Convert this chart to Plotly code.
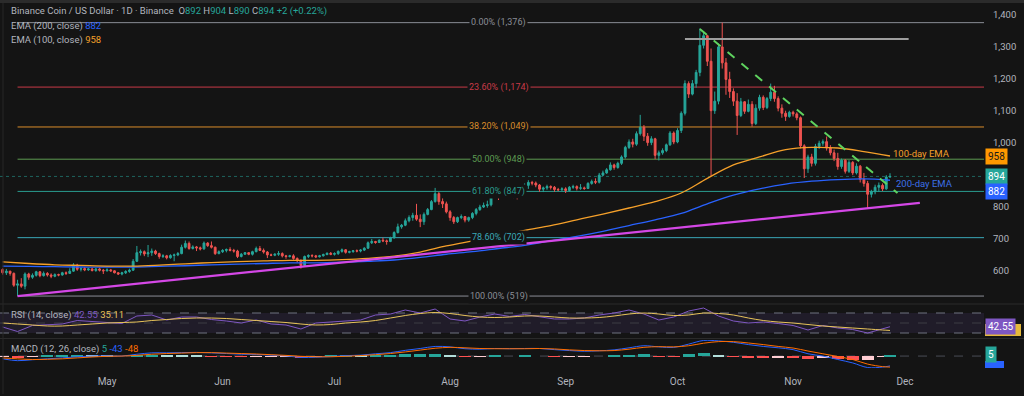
import pandas as pd
import plotly.graph_objects as go
from plotly.subplots import make_subplots

# ---------------- DATA ----------------
first_open = 602
apr_close = [592,597,590,553,557,550,588,578,584,595,583,590,585,581,586,585,592,590,597,616,603,605,601,604,599,604,600,598]
apr_high  = [606,604,598,593,570,575,593,592,590,598,597,596,594,590,590,589,595,596,606,622,620,609,610,607,608,607,608,604]
apr_low   = [586,585,583,548,519,545,540,570,573,580,578,580,580,575,578,581,583,585,588,595,598,596,597,598,596,595,596,588]

may_close = [601,598,592,588,592,596,600,628,655,658,651,655,660,652,643,645,639,646,648,652,672,684,668,673,670,667,685,677,672,652,658]
may_high  = [606,604,600,594,595,600,605,635,676,665,662,679,668,664,655,650,648,650,652,657,680,693,690,678,676,674,690,688,690,674,662]
may_low   = [596,595,590,585,584,588,592,598,626,646,644,641,645,648,636,638,634,636,628,644,650,668,664,665,660,662,664,673,668,648,650]

jun_close = [662,665,662,660,643,650,655,650,658,668,662,657,648,647,650,652,645,643,645,637,630,615,643,646,645,642,645,649,653,650]
jun_high  = [666,668,672,667,664,654,657,656,661,674,676,668,660,652,653,660,656,648,648,650,640,634,646,650,650,648,648,652,656,657]
jun_low   = [654,656,659,655,638,640,648,647,646,656,660,652,638,644,644,645,640,636,640,633,624,605,612,638,640,638,640,643,647,647]

jul_close = [652,659,664,656,658,661,660,663,669,686,690,687,694,692,690,701,718,736,741,755,765,772,760,752,775,790,815,840,815,808,783]
jul_high  = [656,662,668,666,661,663,665,666,672,690,698,692,697,702,696,705,722,746,745,762,772,780,808,775,781,795,820,858,845,825,815]
jul_low   = [646,648,655,652,653,655,656,656,660,667,682,683,685,688,680,688,700,715,730,738,750,755,755,735,742,772,788,812,805,795,778]

aug_close = [765,752,765,768,757,765,778,790,798,803,805,838,850,836,846,838,843,838,832,848,866,875,873,867,854,858,862,860,853,852,855]
aug_high  = [788,770,768,775,770,768,782,795,805,812,818,845,860,855,852,848,848,848,842,852,872,882,880,878,870,862,868,866,864,858,860]
aug_low   = [755,745,748,760,750,752,760,772,786,795,796,800,832,820,830,834,835,826,822,828,845,855,866,860,846,845,852,853,846,848,849]

sep_close = [850,860,862,857,858,856,872,878,876,898,905,915,930,922,935,955,985,1002,995,1028,1048,1020,1000,1012,960,968,975,993,1030,1002]
sep_high  = [860,864,868,866,870,862,876,884,888,905,912,920,938,934,940,960,990,1010,1012,1035,1087,1055,1030,1020,1015,975,982,997,1036,1035]
sep_low   = [842,846,855,850,852,852,855,868,870,872,895,902,912,915,918,930,950,980,985,990,1022,1005,990,992,948,944,962,970,990,995]

oct_close = [1038,1092,1185,1152,1185,1220,1305,1335,1255,1100,1130,1300,1250,1198,1160,1130,1085,1128,1098,1120,1060,1108,1142,1110,1138,1158,1138,1108,1092,1082,1095]
oct_high  = [1045,1098,1195,1192,1196,1228,1358,1350,1338,1295,1160,1310,1376,1265,1222,1170,1155,1140,1130,1135,1130,1120,1150,1148,1143,1185,1178,1145,1120,1100,1100]
oct_low   = [998,1030,1085,1140,1148,1172,1208,1295,1240,895,1090,1120,1232,1150,1140,1115,1024,1080,1090,1095,1050,1055,1100,1102,1105,1130,1128,1098,1078,1068,1078]

nov_close = [1090,1078,990,918,955,935,988,998,1003,983,968,950,925,945,910,938,905,926,885,872,838,846,860,866,855,892,894]
nov_high  = [1100,1095,1082,995,962,965,996,1006,1010,1019,992,978,968,950,948,945,942,935,930,905,880,852,868,875,872,898,904]
nov_low   = [1082,1070,982,889,905,925,928,980,990,975,960,942,915,918,903,905,898,900,875,862,792,828,838,846,848,852,890]

# weekly EMA readings (Apr 3 ... Nov 27)
ema100 = [626,621,617,615,613,613,616,620,624,627,629,631,631,633,637,644,657,676,692,708,725,740,758,776,795,815,842,888,930,955,978,985,983,972,958]
ema200 = [613,612,611,610,610,610,612,614,617,619,621,623,623,625,628,632,640,650,658,668,678,692,706,722,740,758,778,808,835,855,870,879,884,886,882]

# indicator readings every 4 days (Apr 3 ... Nov 25) + last bar (Nov 27)
rsi = [42,33,45,46,48,55,53, 51,49,64,66,56,62,62,57, 54,50,56,48,46,38,50,52, 55,56,66,68,76,70,78,
       58,54,62,68,63,67,62,58, 58,60,66,70,76,68,56,62, 74,80,64,54,50,52,49, 45,36,45,40,37,30,38, 42.55]
rsi_ma = [50,48,46,44,44,46,48, 50,51,52,55,57,59,60,60, 59,57,55,53,51,48,46,47, 50,52,55,60,65,69,71,
          69,65,62,61,62,64,64,62, 60,60,61,64,68,70,68,65, 66,70,69,66,60,55,52, 50,47,44,42,40,38,36, 35.11]
macd = [-12,-20,-16,-12,-8,-3,0, 1,0,8,14,14,15,16,14, 11,8,7,4,1,-6,-5,-2, 2,4,10,15,25,33,42,
        40,32,30,33,32,33,33,28, 24,21,23,27,36,45,40,38, 52,68,66,60,50,42,36, 28,10,0,-15,-30,-50,-48, -43]
signal = [-8,-12,-15,-14,-12,-8,-4, -1,0,3,8,11,13,15,15, 13,11,9,6,3,-1,-3,-3, -1,2,6,11,18,26,34,
          38,36,33,32,32,32,33,31, 27,24,23,24,30,38,41,40, 45,56,63,63,57,50,42, 35,22,10,-2,-15,-35,-46, -48]
hist = [-4,-8,-1,2,4,5,4, 2,0,5,6,3,2,1,-1, -2,-3,-2,-2,-2,-5,-2,1, 3,2,4,4,7,7,8,
        2,-4,-3,1,0,1,0,-3, -3,-3,0,3,6,7,-1,-2, 7,12,3,-3,-7,-8,-6, -7,-12,-10,-13,-15,-15,-2, 5]

fib_levels = [1376, 1174, 1049, 948, 847, 702, 519]
fib_pcts = ["0.00%", "23.60%", "38.20%", "50.00%", "61.80%", "78.60%", "100.00%"]
fib_start = "2025-04-07"

trend_up_dates, trend_up_prices = ["2025-04-07", "2025-12-05"], [519, 811]
trend_down_dates, trend_down_prices = ["2025-10-07", "2025-11-29"], [1356, 842]
resist_dates, resist_price = ["2025-10-03", "2025-12-02"], 1325

month_ticks = ["2025-05-01", "2025-06-01", "2025-07-01", "2025-08-01",
               "2025-09-01", "2025-10-01", "2025-11-01", "2025-12-01"]
month_labels = ["May", "Jun", "Jul", "Aug", "Sep", "Oct", "Nov", "Dec"]
# 900 is hidden behind the price tags in the reference
price_ticks = [600, 700, 800, 1000, 1100, 1200, 1300, 1400]

# ---------------- assemble ----------------
close = apr_close + may_close + jun_close + jul_close + aug_close + sep_close + oct_close + nov_close
high = apr_high + may_high + jun_high + jul_high + aug_high + sep_high + oct_high + nov_high
low = apr_low + may_low + jun_low + jul_low + aug_low + sep_low + oct_low + nov_low
dates = pd.date_range("2025-04-03", "2025-11-27", freq="D")
open_ = [first_open] + close[:-1]

ema_dates = pd.date_range("2025-04-03", periods=len(ema100), freq="7D")
ind_dates = list(pd.date_range("2025-04-03", periods=60, freq="4D")) + [pd.Timestamp("2025-11-27")]

# ---------------- style ----------------
BG = "#141414"
TXT = "#b2b5be"
GREEN = "#26a69a"
RED = "#ef5350"
ORANGE = "#f5a02a"
BLUE = "#2962ff"
PURPLE = "#7e57c2"
YELLOW = "#e8c45a"
FONT = "Roboto, 'Noto Sans', sans-serif"
fib_colors = ["#8a8d96", "#c93a48", "#d98c2b", "#5d9c52", "#2a9d8f", "#3aa8b8", "#8a8d96"]

W_FIG, H_FIG = 1024, 396
L, R, T, B = 0, 40, 3, 28
PW, PH = W_FIG - L - R, H_FIG - T - B


def px(x):
    return (x - L) / PW


def py(y):
    return 1 - (y - T) / PH


X_RANGE = ["2025-04-02 07:00", "2025-12-22 05:00"]

fig = make_subplots(rows=3, cols=1, shared_xaxes=True, vertical_spacing=0.005)

fig.add_trace(go.Candlestick(
    x=dates, open=open_, high=high, low=low, close=close,
    increasing=dict(line=dict(color=GREEN, width=1), fillcolor=GREEN),
    decreasing=dict(line=dict(color=RED, width=1), fillcolor=RED),
    whiskerwidth=0, showlegend=False, hoverinfo="skip"), row=1, col=1)

fig.add_trace(go.Scatter(x=ema_dates, y=ema200, mode="lines", line=dict(color=BLUE, width=1.3, shape="spline"),
                         showlegend=False, hoverinfo="skip"), row=1, col=1)
fig.add_trace(go.Scatter(x=ema_dates, y=ema100, mode="lines", line=dict(color=ORANGE, width=1.3, shape="spline"),
                         showlegend=False, hoverinfo="skip"), row=1, col=1)

# RSI
fig.add_trace(go.Scatter(x=ind_dates, y=rsi, mode="lines", line=dict(color=PURPLE, width=1),
                         showlegend=False, hoverinfo="skip"), row=2, col=1)
fig.add_trace(go.Scatter(x=ind_dates, y=rsi_ma, mode="lines", line=dict(color=YELLOW, width=1, shape="spline"),
                         showlegend=False, hoverinfo="skip"), row=2, col=1)

# MACD
hist_colors = []
for i, v in enumerate(hist):
    prev = hist[i - 1] if i > 0 else v
    if v >= 0:
        hist_colors.append("#26a69a" if v >= prev else "#b2dfdb")
    else:
        hist_colors.append("#ffcdd2" if v >= prev else "#ff5252")
fig.add_trace(go.Bar(x=ind_dates, y=hist, marker=dict(color=hist_colors, line=dict(width=0)),
                     width=3.2 * 86400000, showlegend=False, hoverinfo="skip"), row=3, col=1)
fig.add_trace(go.Scatter(x=ind_dates, y=macd, mode="lines", line=dict(color=BLUE, width=1, shape="spline"),
                         showlegend=False, hoverinfo="skip"), row=3, col=1)
fig.add_trace(go.Scatter(x=ind_dates, y=signal, mode="lines", line=dict(color="#ff6d00", width=1, shape="spline"),
                         showlegend=False, hoverinfo="skip"), row=3, col=1)

shapes = []
annotations = []

# Fibonacci levels
for lvl, pct, col in zip(fib_levels, fib_pcts, fib_colors):
    shapes.append(dict(type="line", xref="x", yref="y", x0=fib_start, x1=X_RANGE[1], y0=lvl, y1=lvl,
                       line=dict(color=col, width=1), layer="below"))
    annotations.append(dict(x="2025-08-14", xref="x", y=lvl, yref="y", text=f"{pct} ({lvl:,})",
                            showarrow=False, font=dict(color=col, size=9, family=FONT),
                            bgcolor=BG, borderpad=1, xanchor="center", yanchor="middle"))

# current price dotted line
shapes.append(dict(type="line", xref="x", yref="y", x0=X_RANGE[0], x1=X_RANGE[1], y0=close[-1], y1=close[-1],
                   line=dict(color="rgba(38,166,154,0.55)", width=1, dash="dot"), layer="below"))

# drawings
shapes.append(dict(type="line", xref="x", yref="y", x0=trend_up_dates[0], x1=trend_up_dates[1],
                   y0=trend_up_prices[0], y1=trend_up_prices[1], line=dict(color="#d447e6", width=2.2)))
shapes.append(dict(type="line", xref="x", yref="y", x0=trend_down_dates[0], x1=trend_down_dates[1],
                   y0=trend_down_prices[0], y1=trend_down_prices[1], line=dict(color="#5fd35f", width=2, dash="dash")))
shapes.append(dict(type="line", xref="x", yref="y", x0=resist_dates[0], x1=resist_dates[1],
                   y0=resist_price, y1=resist_price, line=dict(color="#9e9e9e", width=2)))

# RSI band
shapes.append(dict(type="rect", xref="x2", yref="y2", x0=X_RANGE[0], x1=X_RANGE[1], y0=30, y1=70,
                   fillcolor="rgba(126,87,194,0.12)", line=dict(width=0), layer="below"))
for lv, c in [(70, "#6f7280"), (30, "#6f7280"), (50, "#3c3d45")]:
    shapes.append(dict(type="line", xref="x2", yref="y2", x0=X_RANGE[0], x1=X_RANGE[1], y0=lv, y1=lv,
                       line=dict(color=c, width=1, dash="dash"), layer="below"))
# MACD zero line
shapes.append(dict(type="line", xref="x3", yref="y3", x0=X_RANGE[0], x1=X_RANGE[1], y0=0, y1=0,
                   line=dict(color="#4a4c55", width=1, dash="dash"), layer="below"))

# frame / pane separators
shapes.append(dict(type="rect", xref="paper", yref="paper", x0=px(0), x1=px(1024), y0=py(0), y1=py(3),
                   fillcolor="#2b2b2b", line=dict(width=0)))
for yy in (304, 338.5):
    shapes.append(dict(type="line", xref="paper", yref="paper", x0=px(0), x1=px(1024), y0=py(yy), y1=py(yy),
                       line=dict(color="#2a2a2a", width=1)))
shapes.append(dict(type="line", xref="paper", yref="paper", x0=px(3), x1=px(3), y0=py(3), y1=py(394),
                   line=dict(color="#262626", width=1)))
# RSI-MA tag (mostly hidden behind the RSI tag) and MACD (-43) tag clipped by the pane bottom
shapes.append(dict(type="rect", xref="paper", yref="paper", x0=px(985), x1=px(1021), y0=py(336), y1=py(324),
                   fillcolor="#e5b93c", line=dict(width=0)))
shapes.append(dict(type="rect", xref="paper", yref="paper", x0=px(985), x1=px(1004), y0=py(368), y1=py(361),
                   fillcolor=BLUE, line=dict(width=0)))


def tag(text, y, yref, bg, fg, yshift=0):
    return dict(text=text, x=1, xref="paper", xanchor="left", xshift=1, y=y, yref=yref, yanchor="middle",
                yshift=yshift, showarrow=False, bgcolor=bg, font=dict(color=fg, size=10, family=FONT),
                borderpad=2)


annotations += [
    tag(str(ema100[-1]), ema100[-1], "y", "#ff9800", "#1a1a1a"),
    tag(str(close[-1]), close[-1], "y", GREEN, "#ffffff"),
    tag(str(ema200[-1]), ema200[-1], "y", BLUE, "#ffffff", yshift=-11),
    tag(f"{rsi[-1]:.2f}", rsi[-1], "y2", PURPLE, "#ffffff"),
    tag(str(hist[-1]), hist[-1], "y3", GREEN, "#ffffff"),
]


def label(text, x, y, size=9.5, color=TXT):
    return dict(text=text, x=px(x), y=py(y), xref="paper", yref="paper", xanchor="left", yanchor="middle",
                showarrow=False, font=dict(color=color, size=size, family=FONT))


g = lambda s: f"<span style='color:{GREEN}'>{s}</span>"
annotations += [
    label("Binance Coin / US Dollar · 1D · Binance&nbsp;&nbsp;O" + g("892") + " H" + g("904") + " L" + g("890")
          + " C" + g("894") + " " + g("+2 (+0.22%)"), 9, 11),
    label(f"EMA (200, close) <span style='color:{BLUE}'>{ema200[-1]}</span>", 9, 26),
    label(f"EMA (100, close) <span style='color:{ORANGE}'>{ema100[-1]}</span>", 9, 40),
    label(f"RSI (14, close) <span style='color:{PURPLE}'>{rsi[-1]:.2f}</span> "
          f"<span style='color:{YELLOW}'>{rsi_ma[-1]:.2f}</span>", 9, 315),
    label(f"MACD (12, 26, close) <span style='color:{GREEN}'>{hist[-1]}</span> "
          f"<span style='color:{BLUE}'>{macd[-1]}</span> <span style='color:#ff6d00'>{signal[-1]}</span>", 9, 349),
    label("100-day EMA", 891, 153, size=9.5, color=ORANGE),
    label("200-day EMA", 894, 183, size=9.5, color="#3d6fe6"),
]

fig.update_layout(
    width=W_FIG, height=H_FIG, margin=dict(l=L, r=R, t=T, b=B),
    paper_bgcolor=BG, plot_bgcolor=BG, showlegend=False, bargap=0,
    shapes=shapes, annotations=annotations,
    font=dict(family=FONT, color=TXT, size=10),
)
fig.update_xaxes(range=X_RANGE, showgrid=False, zeroline=False, showline=False, rangeslider_visible=False,
                 tickvals=month_ticks, ticktext=month_labels, ticks="", automargin=False,
                 tickfont=dict(color=TXT, size=10, family=FONT))
fig.update_xaxes(ticklabelstandoff=6, row=3, col=1)

fig.update_layout(
    yaxis=dict(domain=[py(303), 1], range=[497.2, 1437.6], side="right", showgrid=False, zeroline=False,
               tickvals=price_ticks, ticktext=[f"{v:,}" for v in price_ticks], ticks="", automargin=False,
               tickfont=dict(color=TXT, size=9.5, family=FONT), ticklabelstandoff=8),
    yaxis2=dict(domain=[py(338), py(305)], range=[20, 86], side="right", showgrid=False, zeroline=False,
                showticklabels=False, automargin=False),
    yaxis3=dict(domain=[0, py(340)], range=[-52, 70], side="right", showgrid=False, zeroline=False,
                showticklabels=False, automargin=False),
)

fig.write_html("out.html", config={"displayModeBar": False},
               post_script="document.body.style.margin='0';document.body.style.padding='0';")
